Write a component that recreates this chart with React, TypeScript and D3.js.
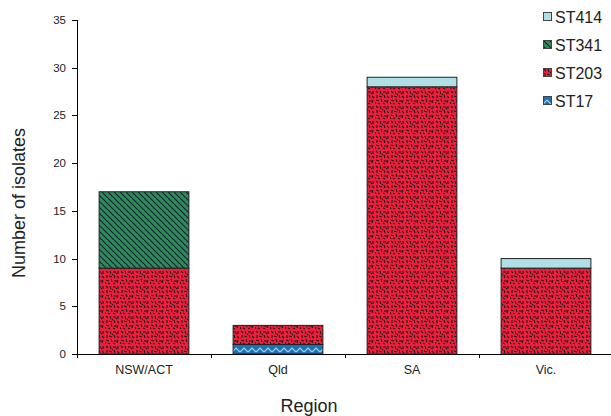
import React from "react";
import * as d3 from "d3";

const regions = ["NSW/ACT", "Qld", "SA", "Vic."];
const seriesNames = ["ST17", "ST203", "ST341", "ST414"];
const st17 = [0, 1, 0, 0];
const st203 = [9, 2, 28, 9];
const st341 = [8, 0, 0, 0];
const st414 = [0, 0, 1, 1];
const yTicks = [0, 5, 10, 15, 20, 25, 30, 35];

const fills: Record<string, string> = {
  ST17: "url(#pST17)",
  ST203: "url(#pST203)",
  ST341: "url(#pST341)",
  ST414: "#b0e0e6",
};

const W = 611, H = 416;

export default function App() {
  const x = d3.scaleBand<string>().domain(regions).range([77, 613]).paddingInner(0.33).paddingOuter(0.165);
  const y = d3.scaleLinear().domain([0, 35]).range([354, 20]);
  const table = regions.map((r, i) => ({ region: r, ST17: st17[i], ST203: st203[i], ST341: st341[i], ST414: st414[i] }));
  const stacked = d3.stack<any>().keys(seriesNames)(table);
  const bandStep = x.step();
  const boundaries = regions.map((_, i) => 77 + bandStep * (i + 1));

  // fixed dash texture for ST203
  const dashes: [number, number, number, number][] = [
    [1, 1, 3, 3], [5, 1, 6, 4], [8, 2, 11, 2], [13, 1, 13, 4], [2, 5, 2, 8], [4, 6, 7, 7],
    [9, 5, 10, 8], [12, 6, 14, 8], [1, 10, 4, 11], [6, 9, 7, 12], [9, 11, 12, 11], [13, 10, 12, 13],
    [3, 13, 5, 14], [8, 13, 10, 14], [1, 14, 0, 12], [11, 3, 12, 4], [7, 4, 8, 5],
  ];

  return (
    <svg width={W} height={H} style={{ display: "block", position: "absolute", left: 0, top: 0 }} fontFamily="Liberation Sans, Arial, sans-serif">
      <defs>
        <pattern id="pST203" width={15} height={15} patternUnits="userSpaceOnUse">
          <rect width={15} height={15} fill="#f01e3c" />
          {dashes.map((d, i) => (
            <line key={i} x1={d[0]} y1={d[1]} x2={d[2]} y2={d[3]} stroke="#1a1a1a" strokeWidth={1.1} />
          ))}
        </pattern>
        <pattern id="pST341" width={6} height={6} patternUnits="userSpaceOnUse">
          <rect width={6} height={6} fill="#2e8b57" />
          <path d="M-1,-1 L7,7 M-4,2 L2,8 M4,-4 L10,2" stroke="#123" strokeWidth={1.2} />
        </pattern>
        <pattern id="pST17" width={8} height={8} patternUnits="userSpaceOnUse" y={2}>
          <rect width={8} height={8} fill="#1e6fb4" />
          <path d="M0,6 L4,2 L8,6" stroke="#9dd4f0" strokeWidth={1.2} fill="none" />
        </pattern>
      </defs>

      {/* bars */}
      {stacked.map((s) => (
        <g key={s.key}>
          {s.map((d, i) => {
            const h = y(d[0]) - y(d[1]);
            if (h <= 0) return null;
            return (
              <rect key={i} x={x(regions[i])!} y={y(d[1])} width={x.bandwidth()} height={h}
                fill={fills[s.key]} stroke="#222" strokeWidth={1} />
            );
          })}
        </g>
      ))}

      {/* y axis */}
      <line x1={77.5} x2={77.5} y1={20} y2={358} stroke="#000" />
      {yTicks.map((t) => (
        <g key={t}>
          <line x1={72} x2={77.5} y1={Math.round(y(t)) + 0.5} y2={Math.round(y(t)) + 0.5} stroke="#000" />
          <text x={66} y={y(t)} dy="0.35em" textAnchor="end" fontSize={11.5} fill="#222">{t}</text>
        </g>
      ))}

      {/* x axis */}
      <line x1={77} x2={611} y1={354.5} y2={354.5} stroke="#000" />
      {boundaries.map((b, i) => (
        <line key={i} x1={Math.round(b) + 0.5} x2={Math.round(b) + 0.5} y1={354.5} y2={358} stroke="#000" />
      ))}
      {regions.map((r) => (
        <text key={r} x={x(r)! + x.bandwidth() / 2} y={374} textAnchor="middle" fontSize={12.5} fill="#222">{r}</text>
      ))}

      <text x={309} y={412} textAnchor="middle" fontSize={18} fill="#222">Region</text>
      <text transform="translate(25,203) rotate(-90)" textAnchor="middle" fontSize={18} fill="#222">Number of isolates</text>

      {/* legend */}
      {[...seriesNames].reverse().map((k, i) => (
        <g key={k} transform={`translate(543,${12 + i * 28})`}>
          <rect x={0.5} y={0.5} width={8} height={8} fill={fills[k]} stroke="#444" strokeWidth={1} />
          <text x={12} y={5} dy="0.36em" fontSize={16} fill="#222">{k}</text>
        </g>
      ))}
    </svg>
  );
}
